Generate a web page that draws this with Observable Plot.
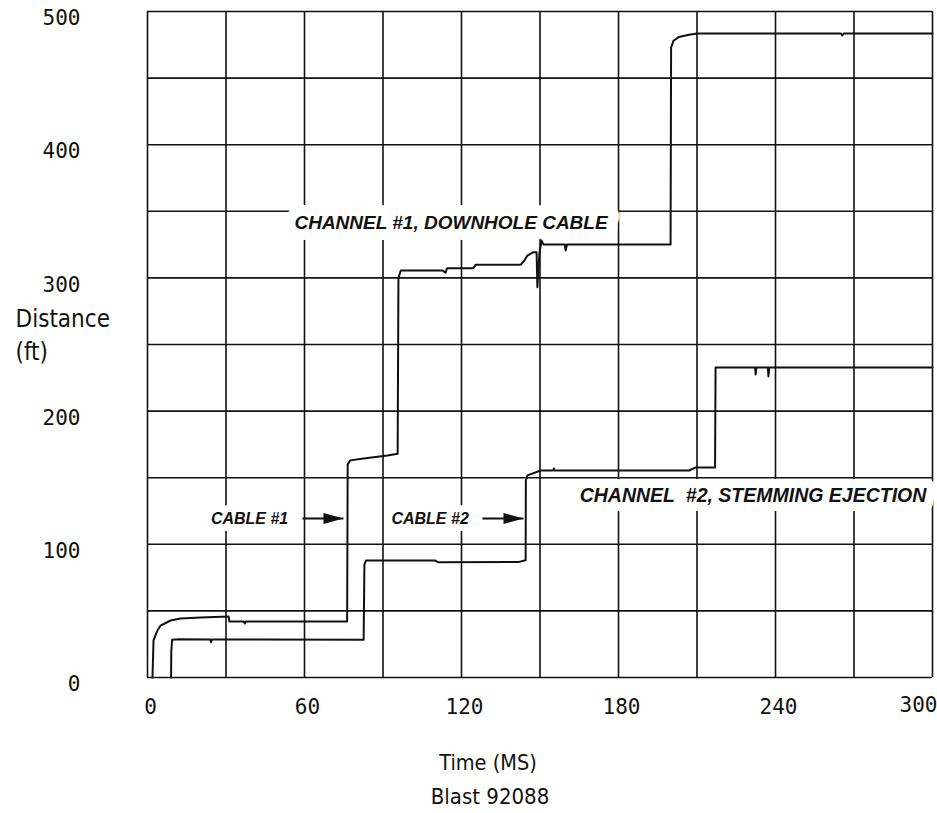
<!DOCTYPE html>
<html><head><meta charset="utf-8">
<script src="https://cdn.jsdelivr.net/npm/d3@7"></script>
<script src="https://cdn.jsdelivr.net/npm/@observablehq/plot@0.6"></script>
<style>
body{margin:0;background:#fff;overflow:hidden}
#caption{width:880px;margin-left:50px;text-align:center;font-family:"DejaVu Sans Condensed","DejaVu Sans",sans-serif;font-stretch:condensed;font-size:22px;line-height:30px;color:#111}
</style></head><body>
<div id="chart"></div>
<div id="caption">Blast 92088</div>
<script>
// ---- data ----
const xGridTicks = [0, 30, 60, 90, 120, 150, 180, 210, 240, 270, 300];
const yGridTicks = [0, 50, 100, 150, 200, 250, 300, 350, 400, 450, 500];
const xTickLabels = [0, 60, 120, 180, 240, 300];
const yTickLabels = [0, 100, 200, 300, 400, 500];
const xAxisLabel = "Time (MS)";
const yAxisLabel = "Distance\n(ft)";

// Channel #1, downhole cable: [time ms, distance ft]
const channel1Trace = [
  [1.9,0],[2.3,27.8],[3.8,35.3],[5.0,39.0],[8.8,42.8],[12.6,44.3],[20.3,45.0],[31.0,45.8],[31.3,42.0],
  [36.8,42.0],[37.2,40.5],[37.6,42.0],[76.3,42.0],[76.5,160.0],[77.5,163.0],[82.6,164.4],[91.7,166.7],
  [95.6,168.0],[95.9,300.0],[96.8,305.6],[112.7,305.6],[113.9,304.0],[114.5,307.3],[124.5,307.3],
  [125.4,309.8],[142.6,309.8],[144.0,313.0],[145.2,316.8],[147.5,319.3],[148.7,319.3],[149.0,293.0],
  [149.8,319.0],[150.6,328.0],[151.3,325.1],[159.5,325.1],[159.8,320.6],[160.3,325.1],[199.9,325.1],
  [200.1,473.0],[201.0,478.0],[203.0,480.8],[207.0,482.5],[210.0,483.5],[265.0,483.5],[265.5,482.0],
  [266.0,483.5],[300.0,483.5]
];
// Channel #2, stemming ejection: [time ms, distance ft]
const channel2Trace = [
  [9.0,0],[9.1,20.0],[9.4,28.3],[12.0,28.8],[24.0,28.5],[24.3,26.5],[24.6,28.5],[82.6,28.3],[82.9,85.0],
  [83.5,87.8],[110.0,87.8],[111.0,86.5],[142.0,86.8],[144.5,88.0],[144.6,148.0],[145.2,151.7],
  [150.3,155.4],[155.0,155.4],[155.3,157.0],[155.6,155.4],[207.0,155.4],[209.5,157.7],[216.9,157.7],
  [217.1,232.7],[232.2,232.7],[232.4,227.5],[232.7,232.7],[237.1,232.7],[237.3,226.0],[237.6,232.7],
  [300.0,232.7]
];

// annotations (time, distance)
const channelLabels = [
  {text: "CHANNEL #1, DOWNHOLE CABLE", t: 116, d: 341.6, halo: 22},
  {text: "CHANNEL\u00a0 #2, STEMMING EJECTION", t: 231.4, d: 136.6, halo: 18}
];
const cableLabels = [
  {text: "CABLE #1", t: 39, d: 119.4},
  {text: "CABLE #2", t: 108, d: 119.4}
];
const cableArrows = [
  {from: 59.2, to: 74.9, d: 119.4},
  {from: 128.0, to: 143.7, d: 119.4}
];

// ---- chart ----
const ink = "#111";
const arrowHead = {draw(ctx) { ctx.moveTo(0, 0); ctx.lineTo(-20, -5.5); ctx.lineTo(-20, 5.5); ctx.closePath(); }};
const toRows = tr => tr.map(([t, d]) => ({t, d}));
const annFont = "'Liberation Sans', Arial, Helvetica, sans-serif";
const sansCond = "'DejaVu Sans Condensed', 'DejaVu Sans', sans-serif";
const mono = "'DejaVu Sans Mono', monospace";
const lastX = xTickLabels[xTickLabels.length - 1];

const plot = Plot.plot({
  width: 937,
  height: 782,
  marginLeft: 147,
  marginRight: 5,
  marginTop: 11,
  marginBottom: 105,
  x: {domain: [0, 300]},
  y: {domain: [0, 500]},
  style: {background: "white", color: ink, fontFamily: mono, overflow: "visible"},
  marks: [
    Plot.gridX(xGridTicks, {stroke: ink, strokeOpacity: 1, strokeWidth: 1.6}),
    Plot.gridY(yGridTicks, {stroke: ink, strokeOpacity: 1, strokeWidth: 1.6}),
    Plot.text(channelLabels.slice(0, 1), {x: "t", y: "d", text: "text", fill: ink, stroke: "white", strokeWidth: 22, paintOrder: "stroke", strokeLinejoin: "round", fontFamily: annFont, fontWeight: "bold", fontStyle: "italic", fontSize: 19}),
    Plot.text(channelLabels.slice(1), {x: "t", y: "d", text: "text", fill: ink, stroke: "white", strokeWidth: 18, paintOrder: "stroke", strokeLinejoin: "round", fontFamily: annFont, fontWeight: "bold", fontStyle: "italic", fontSize: 19.5}),
    Plot.text(cableLabels, {x: "t", y: "d", text: "text", fill: ink, stroke: "white", strokeWidth: 14, paintOrder: "stroke", strokeLinejoin: "round", fontFamily: annFont, fontWeight: "bold", fontStyle: "italic", fontSize: 16}),
    Plot.link(cableArrows, {x1: "from", x2: "to", y1: "d", y2: "d", stroke: ink, strokeWidth: 2}),
    Plot.dot(cableArrows, {x: "to", y: "d", symbol: arrowHead, fill: ink, stroke: null}),
    Plot.line(toRows(channel1Trace), {x: "t", y: "d", stroke: ink, strokeWidth: 2, strokeLinejoin: "round"}),
    Plot.line(toRows(channel2Trace), {x: "t", y: "d", stroke: ink, strokeWidth: 2, strokeLinejoin: "round"}),
    Plot.axisY(yTickLabels, {tickSize: 0, tickPadding: 67, dy: 7, fontSize: 21, fontFamily: mono, label: null, tickFormat: d => String(d)}),
    Plot.axisX(xTickLabels.filter(v => v !== lastX), {tickSize: 0, tickPadding: 22, dx: 3, fontSize: 21, fontFamily: mono, label: null, tickFormat: d => String(d)}),
    Plot.axisX([lastX], {tickSize: 0, tickPadding: 20, dx: 5, textAnchor: "end", fontSize: 21, fontFamily: mono, label: null, tickFormat: d => String(d)}),
    Plot.text([yAxisLabel], {frameAnchor: "left", text: d => d, textAnchor: "start", dx: -132, dy: -12, lineAnchor: "middle", lineHeight: 1.38, fontSize: 24, fontFamily: sansCond, fill: ink}),
    Plot.text([xAxisLabel], {frameAnchor: "bottom", text: d => d, dx: -52, dy: 86, lineAnchor: "middle", fontSize: 21.5, fontFamily: sansCond, fill: ink})
  ]
});
document.getElementById("chart").appendChild(plot);
</script>
</body></html>
